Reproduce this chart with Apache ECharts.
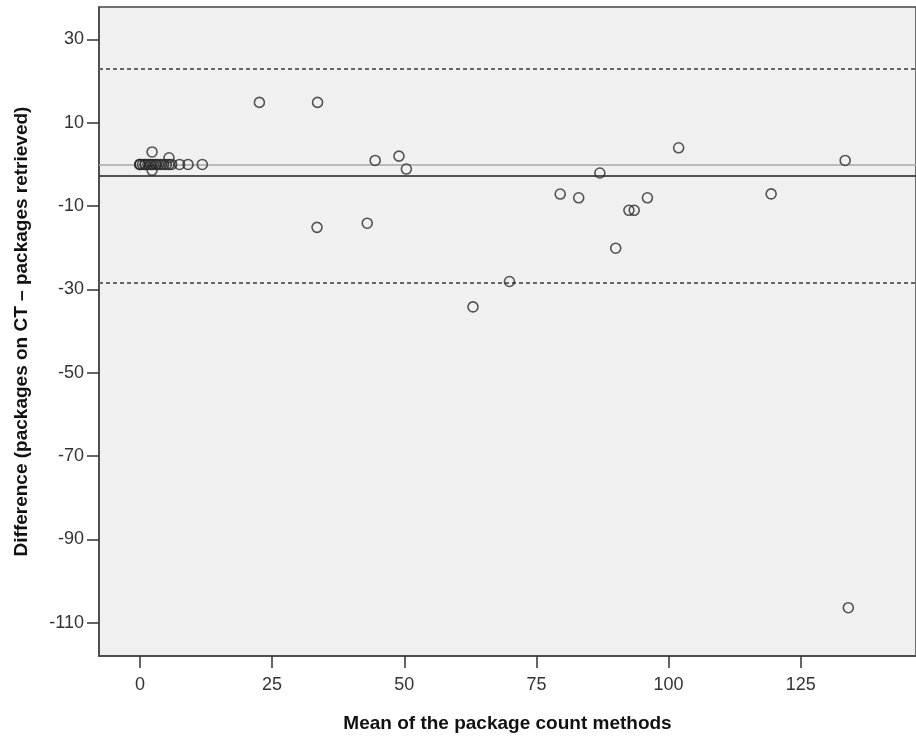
<!DOCTYPE html>
<html>
<head>
<meta charset="utf-8">
<script src="https://cdn.jsdelivr.net/npm/echarts@6/dist/echarts.min.js"></script>
<style>
html,body{margin:0;padding:0;background:#fff;}
#chart{width:916px;height:738px;}
</style>
</head>
<body>
<div id="chart"></div>
<script>
// Mean of the two methods (x) and their difference (y)
const meanValues = [0, 0, 0, 0.5, 1, 1, 1.5, 2, 2, 2.5, 3, 3, 3.5, 4, 4.5, 5, 5.5, 6, 7.5, 9.1, 11.8,
  2.3, 2.3, 5.5,
  22.6, 33.6, 33.5, 43.0, 44.5, 49.0, 50.4, 63.0, 69.9, 79.5, 83.0, 87.0, 90.0, 92.5, 93.5, 96.0, 101.9, 119.4, 133.4, 134.0];
const diffValues = [0, 0, 0, 0, 0, 0, 0, 0, 0, 0, 0, 0, 0, 0, 0, 0, 0, 0, 0, 0, 0,
  3.0, -1.4, 1.6,
  14.9, 14.9, -15.1, -14.1, 0.96, 2.0, -1.1, -34.2, -28.1, -7.1, -8.0, -2.05, -20.1, -11.0, -11.0, -8.0, 4.0, -7.07, 0.96, -106.4];
const zeroLine = 0;
const meanDiff = -2.77;
const upperLimit = 23.0;
const lowerLimit = -28.5;
const xTicks = [0, 25, 50, 75, 100, 125];
const yTicks = [30, 10, -10, -30, -50, -70, -90, -110];

const points = meanValues.map((m, i) => [m, diffValues[i]]);
const chart = echarts.init(document.getElementById('chart'));
const tickFont = {fontFamily: '"Liberation Sans Narrow", "Arial Narrow", "Liberation Sans", Arial, sans-serif', fontSize: 18, color: '#333'};
chart.setOption({
  animation: false,
  backgroundColor: '#ffffff',
  grid: {left: 99, right: -2, top: 7, bottom: 77, show: true, backgroundColor: '#f0f0f0', borderColor: '#444', borderWidth: 1.5},
  xAxis: {
    type: 'value', min: -7.74, max: 146.8,
    name: 'Mean of the package count methods', nameLocation: 'middle', nameGap: 58,
    nameTextStyle: {fontFamily: '"Liberation Sans", Arial, sans-serif', fontWeight: 'bold', fontSize: 19, color: '#111'},
    axisLine: {show: true, onZero: false, lineStyle: {color: '#444', width: 1.5}},
    axisTick: {show: true, inside: false, length: 12, lineStyle: {color: '#333', width: 1.5}, customValues: xTicks},
    axisLabel: Object.assign({margin: 20, customValues: xTicks}, tickFont),
    splitLine: {show: false}
  },
  yAxis: {
    type: 'value', min: -118, max: 37.8,
    name: 'Difference (packages on CT \u2013 packages retrieved)', nameLocation: 'middle', nameGap: 68,
    nameTextStyle: {fontFamily: '"Liberation Sans", Arial, sans-serif', fontWeight: 'bold', fontSize: 19, color: '#111'},
    axisLine: {show: true, onZero: false, lineStyle: {color: '#444', width: 1.5}},
    axisTick: {show: true, inside: false, length: 12, lineStyle: {color: '#333', width: 1.5}, customValues: yTicks},
    axisLabel: Object.assign({margin: 15, customValues: yTicks}, tickFont),
    splitLine: {show: false}
  },
  series: [{
    type: 'scatter',
    data: points,
    symbol: 'circle',
    symbolSize: 10,
    itemStyle: {color: 'rgba(0,0,0,0)', borderColor: '#2a2a2a', borderWidth: 1.6},
    z: 5,
    markLine: {
      silent: true, symbol: 'none', label: {show: false},
      data: [
        {yAxis: zeroLine, lineStyle: {color: '#a8a8a8', width: 1.5, type: 'solid'}},
        {yAxis: meanDiff, lineStyle: {color: '#222', width: 1.5, type: 'solid'}},
        {yAxis: upperLimit, lineStyle: {color: '#666', width: 2, type: [4, 3]}},
        {yAxis: lowerLimit, lineStyle: {color: '#666', width: 2, type: [4, 3]}}
      ]
    }
  }]
});
</script>
</body>
</html>
